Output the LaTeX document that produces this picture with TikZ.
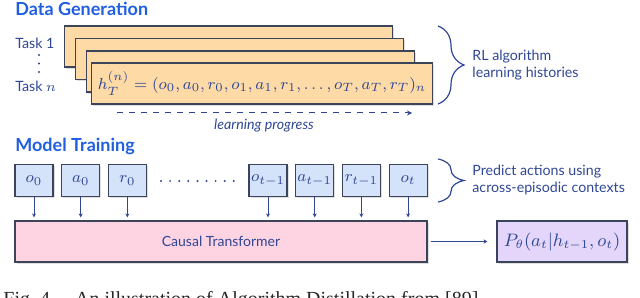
\documentclass[tikz,border=0pt]{standalone}
\usepackage{fontspec}
\setmainfont{Liberation Serif}
\newfontfamily\labelfont{Lato}
\usetikzlibrary{arrows.meta,positioning,calc,shadows,decorations.pathreplacing}

\definecolor{headblue}{HTML}{1F5FE0}
\definecolor{inkblue}{HTML}{2F4795}
\definecolor{edgegray}{HTML}{3B4458}
\definecolor{cardfill}{HTML}{FDDAA6}
\definecolor{tokfill}{HTML}{D5E3FA}
\definecolor{tffill}{HTML}{FED4E2}
\definecolor{outfill}{HTML}{E3D6FA}

\tikzset{
boxshadow/.style={drop shadow={opacity=0.25, shadow xshift=0.8pt, shadow yshift=-0.8pt}},
cardbox/.style={draw=edgegray, fill=cardfill, line width=0.6pt, minimum width=164pt, minimum height=20.5pt, boxshadow, text=inkblue, font=\fontsize{7.9}{9.5}\selectfont},
tokbox/.style={draw=edgegray, fill=tokfill, line width=0.6pt, minimum width=19pt, minimum height=16pt, inner sep=0pt, boxshadow, text=inkblue, font=\fontsize{8}{9.6}\selectfont},
tfbox/.style={draw=edgegray, fill=tffill, line width=0.6pt, minimum width=206pt, minimum height=20.5pt, boxshadow, text=inkblue, font=\labelfont\fontsize{7}{8.5}\selectfont},
outbox/.style={draw=edgegray, fill=outfill, line width=0.6pt, minimum width=62pt, minimum height=20.5pt, boxshadow, text=inkblue, font=\fontsize{8.7}{10.4}\selectfont},
headtext/.style={text=headblue, font=\labelfont\bfseries\fontsize{9}{10.8}\selectfont, inner sep=0pt},
sidetext/.style={text=inkblue, font=\labelfont\fontsize{7.1}{8.5}\selectfont, align=left, inner sep=0pt},
tokarrow/.style={-{Stealth[length=2pt, width=2pt]}, draw=inkblue, line width=0.4pt},
sidebrace/.style={decorate, decoration={brace, amplitude=13pt, aspect=0.5}, draw=inkblue, line width=0.6pt}
}

\begin{document}
\begin{tikzpicture}[x=0.5pt,y=-0.5pt]
\useasboundingbox (0,0) rectangle (640,298);

% data generation
\node[headtext, anchor=west] (datahead) at (15,9) {Data Generation};
\node[sidetext, anchor=west] (task1) at (15,43) {Task 1};
\node[sidetext, anchor=west] (taskn) at (15,86) {Task $n$};
\foreach \y in {55,63.5,72}
  \fill[inkblue] (39,\y) circle (0.6pt);

\node[cardbox] (card1) at (228.5,46.5) {};
\node[cardbox] (card2) at (239.5,59) {};
\node[cardbox] (card3) at (250.5,71.5) {};
\node[cardbox] (card4) at (262,83.5) {$h_T^{(n)} = (o_0, a_0, r_0, o_1, a_1, r_1, \ldots, o_T, a_T, r_T)_n$};

\coordinate (progstart) at (117,113);
\coordinate (progend) at (412,113);
\draw[dashed, draw=inkblue, line width=0.5pt, -{Stealth[length=2.5pt, width=2.5pt]}] (progstart) -- (progend);
\node[sidetext, font=\labelfont\itshape\fontsize{7.1}{8.5}\selectfont] (progress) at (264,126) {learning progress};

\coordinate (brace1top) at (438,26);
\coordinate (brace1bot) at (438,104);
\draw[sidebrace] (brace1top) -- (brace1bot);
\node[sidetext, anchor=west] (histories) at (472,65.5) {RL algorithm\\learning histories};

% model training
\node[headtext, anchor=west] (modelhead) at (15,146) {Model Training};

\node[tokbox] (o0) at (34,180.5) {$o_0$};
\node[tokbox] (a0) at (80.7,180.5) {$a_0$};
\node[tokbox] (r0) at (127.4,180.5) {$r_0$};
\foreach \k in {0,...,8}
  \fill[inkblue] (161+9.1*\k,181) circle (0.55pt);
\node[tokbox] (otm) at (268,180.5) {$o_{t-1}$};
\node[tokbox] (atm) at (314.7,180.5) {$a_{t-1}$};
\node[tokbox] (rtm) at (361.4,180.5) {$r_{t-1}$};
\node[tokbox] (ot) at (408.1,180.5) {$o_t$};

\coordinate (brace2top) at (438,159);
\coordinate (brace2bot) at (438,202);
\draw[sidebrace] (brace2top) -- (brace2bot);
\node[sidetext, anchor=west] (predict) at (472,180) {Predict actions using\\across-episodic contexts};

\node[tfbox] (tf) at (221,241.5) {Causal Transformer};
\node[outbox] (out) at (562,241.5) {$P_\theta(a_t|h_{t-1},o_t)$};

\foreach \t in {o0,a0,r0,otm,atm,rtm,ot}
  \draw[tokarrow, shorten >=1.5pt] (\t.south) -- (\t.south |- tf.north);
\draw[tokarrow, shorten <=1.5pt, shorten >=4.5pt] (tf.east) -- (out.west);

% caption, cut by the page edge
\node[anchor=base west, inner sep=0pt, font=\fontsize{10}{12}\selectfont, text=black!85] (caption) at (3,305) {Fig.~4.\quad An illustration of Algorithm Distillation from [89].};
\end{tikzpicture}
\end{document}
